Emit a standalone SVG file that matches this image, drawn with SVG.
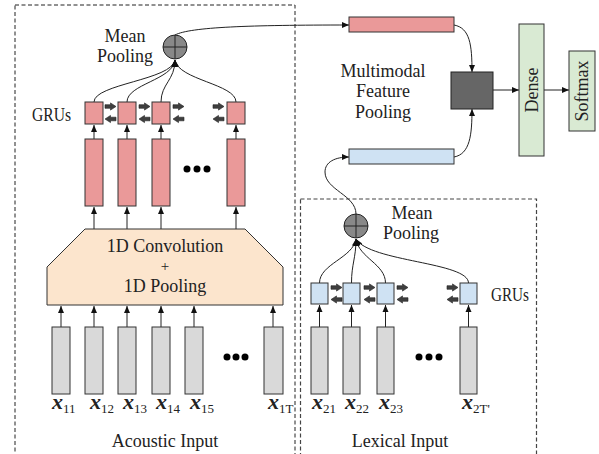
<svg xmlns="http://www.w3.org/2000/svg" width="599" height="454" viewBox="0 0 599 454">
<style>
text{font-family:"Liberation Serif","Times New Roman",serif;font-size:18px;fill:#222}
.c{text-anchor:middle}
.box{stroke:#333;stroke-width:1}
.pink{fill:#ea9999}
.blue{fill:#cfe2f3}
.gray{fill:#d9d9d9}
.green{fill:#d9ead3}
.ln{fill:none;stroke:#222;stroke-width:1}
.ar{marker-end:url(#ah)}
.blk{fill:#3f3f3f;stroke:#222;stroke-width:0.6}
.xv{font-weight:bold;font-style:italic;font-size:22px}
.sub{font-size:13px}
.dot{fill:#000}
</style>
<defs>
<marker id="ah" markerUnits="userSpaceOnUse" markerWidth="8" markerHeight="8" viewBox="0 0 8 8" refX="7" refY="4" orient="auto">
<path d="M0,1 L7,4 L0,7 Z" fill="#111"/>
</marker>
<path id="ra" d="M0,-1.8 H5.5 V-3.6 L11,0 L5.5,3.6 V1.8 H0 Z"/>
<path id="la" d="M11,-1.8 H5.5 V-3.6 L0,0 L5.5,3.6 V1.8 H11 Z"/>
</defs>
<rect width="599" height="454" fill="#fff"/>

<g id="regions">
<rect x="15" y="5" width="280" height="460" fill="none" stroke="#222" stroke-width="1" stroke-dasharray="4,2.5"/>
<rect x="300.5" y="199" width="236" height="270" fill="none" stroke="#444" stroke-width="1.2" stroke-dasharray="4,2.5"/>
</g>

<g id="connectors">
<path class="ln ar" d="M61,327 V306"/>
<path class="ln ar" d="M94,327 V306"/>
<path class="ln ar" d="M127,327 V306"/>
<path class="ln ar" d="M161,327 V306"/>
<path class="ln ar" d="M194,327 V306"/>
<path class="ln ar" d="M273,327 V306"/>
<path class="ln ar" d="M94,229 V207"/>
<path class="ln ar" d="M127,229 V207"/>
<path class="ln ar" d="M161,229 V207"/>
<path class="ln ar" d="M236,229 V207"/>
<path class="ln ar" d="M94,139 V125"/>
<path class="ln ar" d="M127,139 V125"/>
<path class="ln ar" d="M161,139 V125"/>
<path class="ln ar" d="M236,139 V125"/>
<path class="ln ar" d="M94,102 C94,84 172,80 175,60"/>
<path class="ln ar" d="M127,102 C127,84 173,80 175,60"/>
<path class="ln ar" d="M161,102 C161,84 175,80 175,60"/>
<path class="ln ar" d="M236,102 C236,84 178,80 175,60"/>
<path class="ln ar" d="M175,35 C190,27 250,25 349,25"/>
<path class="ln ar" d="M319.5,327 V305"/>
<path class="ln ar" d="M351.5,327 V305"/>
<path class="ln ar" d="M385.5,327 V305"/>
<path class="ln ar" d="M468.5,327 V305"/>
<path class="ln ar" d="M319.5,283 C319.5,264 353,258 356,239"/>
<path class="ln ar" d="M351.5,283 C351.5,264 356,258 356,239"/>
<path class="ln ar" d="M385.5,283 C385.5,264 359,258 356,239"/>
<path class="ln ar" d="M468.5,283 C468.5,262 370,262 356,239"/>
<path class="ln ar" d="M356,214 C356,195 325,190 325,172 C325,162 335,157 349,157"/>
<path class="ln ar" d="M454,25 C470,28 472,45 472,72"/>
<path class="ln ar" d="M454,157 C470,154 472,135 472,109"/>
<path class="ln ar" d="M493,90 H519"/>
<path class="ln ar" d="M544,90 H569"/>
</g>

<g id="acoustic-inputs">
<rect class="box gray" x="52" y="327" width="18" height="67"/>
<rect class="box gray" x="85" y="327" width="18" height="67"/>
<rect class="box gray" x="118" y="327" width="18" height="67"/>
<rect class="box gray" x="152" y="327" width="18" height="67"/>
<rect class="box gray" x="185" y="327" width="18" height="67"/>
<rect class="box gray" x="264" y="327" width="19" height="67"/>
<circle class="dot" cx="227" cy="357" r="3.5"/>
<circle class="dot" cx="236" cy="357" r="3.5"/>
<circle class="dot" cx="245" cy="357" r="3.5"/>
<text x="52" y="409"><tspan class="xv">x</tspan><tspan class="sub" dy="4">11</tspan></text>
<text x="90" y="409"><tspan class="xv">x</tspan><tspan class="sub" dy="4">12</tspan></text>
<text x="123" y="409"><tspan class="xv">x</tspan><tspan class="sub" dy="4">13</tspan></text>
<text x="156" y="409"><tspan class="xv">x</tspan><tspan class="sub" dy="4">14</tspan></text>
<text x="190" y="409"><tspan class="xv">x</tspan><tspan class="sub" dy="4">15</tspan></text>
<text x="268" y="409"><tspan class="xv">x</tspan><tspan class="sub" dy="4">1T</tspan></text>
<text class="c" x="165" y="447">Acoustic Input</text>
</g>

<g id="conv">
<polygon points="85,229 245,229 283,267 283,305 47,305 47,267" fill="#fce5cd" stroke="#333" stroke-width="1"/>
<text class="c" x="165" y="252">1D Convolution</text>
<text class="c" x="165" y="271" style="font-size:15px">+</text>
<text class="c" x="165" y="292">1D Pooling</text>
</g>

<g id="acoustic-features">
<rect class="box pink" x="85" y="139" width="18" height="67"/>
<rect class="box pink" x="118" y="139" width="18" height="67"/>
<rect class="box pink" x="152" y="139" width="18" height="67"/>
<rect class="box pink" x="227" y="139" width="18" height="67"/>
<circle class="dot" cx="187" cy="169" r="3.5"/>
<circle class="dot" cx="197" cy="169" r="3.5"/>
<circle class="dot" cx="207" cy="169" r="3.5"/>
</g>

<g id="acoustic-grus">
<rect class="box pink" x="85" y="102" width="18" height="22"/>
<rect class="box pink" x="118" y="102" width="18" height="22"/>
<rect class="box pink" x="152" y="102" width="18" height="22"/>
<rect class="box pink" x="227" y="102" width="18" height="22"/>
<use href="#ra" class="blk" x="105" y="106.5"/>
<use href="#ra" class="blk" x="139" y="106.5"/>
<use href="#ra" class="blk" x="173" y="106.5"/>
<use href="#ra" class="blk" x="213" y="106.5"/>
<use href="#la" class="blk" x="105" y="119"/>
<use href="#la" class="blk" x="139" y="119"/>
<use href="#la" class="blk" x="173" y="119"/>
<use href="#la" class="blk" x="213" y="119"/>
<text x="32" y="121" textLength="39" lengthAdjust="spacingAndGlyphs">GRUs</text>
</g>

<g id="acoustic-pooling">
<circle cx="175" cy="47" r="12" fill="#888" stroke="#222" stroke-width="1"/>
<path d="M163,47 H187 M175,35 V59" stroke="#222" stroke-width="1"/>
<text class="c" x="125" y="42">Mean</text>
<text class="c" x="125" y="62">Pooling</text>
</g>

<g id="lexical-inputs">
<rect class="box gray" x="311" y="327" width="17" height="67"/>
<rect class="box gray" x="343" y="327" width="17" height="67"/>
<rect class="box gray" x="377" y="327" width="17" height="67"/>
<rect class="box gray" x="460" y="327" width="17" height="67"/>
<circle class="dot" cx="419" cy="357" r="3.5"/>
<circle class="dot" cx="429" cy="357" r="3.5"/>
<circle class="dot" cx="439" cy="357" r="3.5"/>
<text x="312" y="409"><tspan class="xv">x</tspan><tspan class="sub" dy="4">21</tspan></text>
<text x="345" y="409"><tspan class="xv">x</tspan><tspan class="sub" dy="4">22</tspan></text>
<text x="379" y="409"><tspan class="xv">x</tspan><tspan class="sub" dy="4">23</tspan></text>
<text x="462" y="409"><tspan class="xv">x</tspan><tspan class="sub" dy="4">2T'</tspan></text>
<text class="c" x="400" y="447">Lexical Input</text>
</g>

<g id="lexical-grus">
<rect class="box blue" x="311" y="283" width="17" height="21"/>
<rect class="box blue" x="343" y="283" width="17" height="21"/>
<rect class="box blue" x="377" y="283" width="17" height="21"/>
<rect class="box blue" x="460" y="283" width="17" height="21"/>
<use href="#ra" class="blk" x="331" y="287.5"/>
<use href="#ra" class="blk" x="364" y="287.5"/>
<use href="#ra" class="blk" x="397" y="287.5"/>
<use href="#ra" class="blk" x="447" y="287.5"/>
<use href="#la" class="blk" x="331" y="299.5"/>
<use href="#la" class="blk" x="364" y="299.5"/>
<use href="#la" class="blk" x="397" y="299.5"/>
<use href="#la" class="blk" x="447" y="299.5"/>
<text x="491" y="301" textLength="38" lengthAdjust="spacingAndGlyphs">GRUs</text>
</g>

<g id="lexical-pooling">
<circle cx="356" cy="226" r="12" fill="#888" stroke="#222" stroke-width="1"/>
<path d="M344,226 H368 M356,214 V238" stroke="#222" stroke-width="1"/>
<text class="c" x="412" y="219">Mean</text>
<text class="c" x="411" y="239">Pooling</text>
</g>

<g id="acoustic-vector">
<rect class="box pink" x="349" y="17" width="105" height="15"/>
</g>
<g id="lexical-vector">
<rect class="box blue" x="349" y="149" width="105" height="15"/>
</g>

<g id="fusion">
<rect x="451" y="72" width="42" height="37" fill="#666" stroke="#222" stroke-width="1"/>
<text class="c" x="383" y="77">Multimodal</text>
<text class="c" x="383" y="97">Feature</text>
<text class="c" x="383" y="118">Pooling</text>
</g>

<g id="dense">
<rect class="box green" x="519" y="24" width="25" height="132"/>
<text class="c" transform="translate(537.5,90) rotate(-90)">Dense</text>
</g>

<g id="softmax">
<rect class="box green" x="569" y="51" width="26" height="80"/>
<text class="c" transform="translate(588,91) rotate(-90)">Softmax</text>
</g>
</svg>
